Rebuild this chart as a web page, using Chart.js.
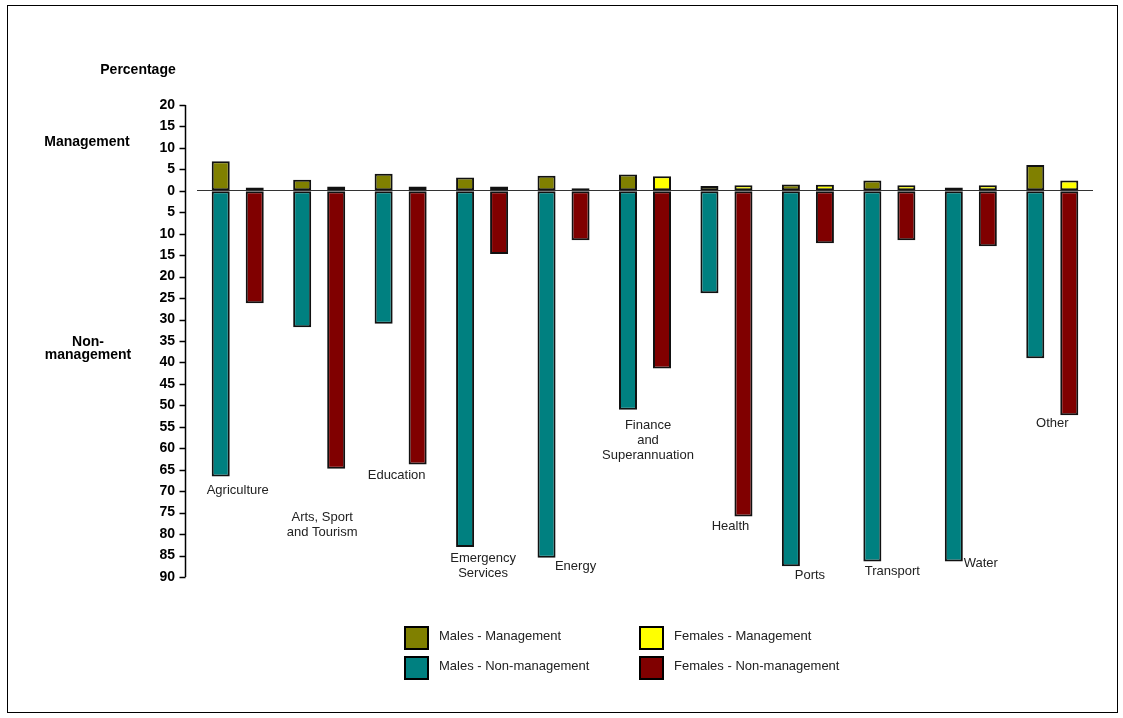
<!DOCTYPE html>
<html>
<head>
<meta charset="utf-8">
<script src="https://cdn.jsdelivr.net/npm/chart.js@4"></script>
<style>
  body { margin: 0; background: #fff; }
  #wrap { width: 1123px; height: 718px; }
</style>
</head>
<body>
<div id="wrap"><canvas id="chart" width="1123" height="718"></canvas></div>
<script>
const categories = ['Agriculture', ['Arts, Sport', 'and Tourism'], 'Education', ['Emergency', 'Services'], 'Energy',
	['Finance', 'and', 'Superannuation'], 'Health', 'Ports', 'Transport', 'Water', 'Other'];
const malesMgmt = [6.9, 2.6, 4.0, 3.1, 3.5, 3.8, 1.1, 1.5, 2.4, 0.8, 6.0];
const femalesMgmt = [0.8, 1.0, 1.0, 1.0, 0.6, 3.4, 1.3, 1.4, 1.3, 1.3, 2.4];
const malesNonMgmt = [-66.6, -31.8, -31.0, -83.0, -85.5, -51.0, -23.9, -87.5, -86.4, -86.4, -39.0];
const femalesNonMgmt = [-26.2, -64.8, -63.8, -14.7, -11.5, -41.4, -75.9, -12.2, -11.5, -12.9, -52.3];
const yMin = -90;
const yMax = 20;
const yStep = 5;

const FONT = 'Arial, "Liberation Sans", sans-serif';
Chart.defaults.font.family = FONT;

// label nudges relative to the group centre / longest bar end
const labelDx = [0, 3, -4, 1, 12, 3, 4, 2, 3, 10, 0];
const labelDy = [14, 49, 11, 11, 9, 16, 10, 9, 10, 2, 8];

const decorations = {
	id: 'decorations',
	beforeDraw(chart) {
		const ctx = chart.ctx;
		ctx.save();
		ctx.fillStyle = '#fff';
		ctx.fillRect(0, 0, chart.width, chart.height);
		ctx.strokeStyle = '#000';
		ctx.lineWidth = 1;
		ctx.strokeRect(7.5, 5.5, 1110, 707);
		ctx.restore();
	},
	afterDraw(chart) {
		const ctx = chart.ctx;
		const y = chart.scales.y;
		const x = chart.scales.x;
		const area = chart.chartArea;
		ctx.save();
		// y axis line and tick marks
		const ax = area.left - 11.5;
		ctx.strokeStyle = '#000';
		ctx.lineWidth = 1.5;
		ctx.beginPath();
		ctx.moveTo(ax, y.getPixelForValue(yMax));
		ctx.lineTo(ax, y.getPixelForValue(yMin));
		y.ticks.forEach((t) => {
			const py = Math.round(y.getPixelForValue(t.value)) + 0.5;
			ctx.moveTo(ax - 6, py);
			ctx.lineTo(ax, py);
		});
		ctx.stroke();

		// side titles
		ctx.fillStyle = '#000';
		ctx.font = 'bold 14px ' + FONT;
		ctx.textAlign = 'center';
		ctx.textBaseline = 'middle';
		ctx.fillText('Percentage', 138, 70);
		ctx.fillText('Management', 87, 142);
		ctx.fillText('Non-', 88, 342);
		ctx.fillText('management', 88, 355);

		// category labels under the longest bar of each group
		ctx.font = '13px ' + FONT;
		ctx.fillStyle = '#222';
		categories.forEach((cat, i) => {
			const lines = Array.isArray(cat) ? cat : [cat];
			const low = Math.min(malesNonMgmt[i], femalesNonMgmt[i]);
			const by = y.getPixelForValue(low);
			const cx = x.getPixelForValue(i) + labelDx[i];
			lines.forEach((ln, k) => ctx.fillText(ln, cx, by + labelDy[i] + k * 15));
		});

		// legend, two columns
		const cols = [404, 639];
		const rows = [638, 668];
		chart.data.datasets.forEach((ds, i) => {
			const bx = cols[i % 2];
			const cy = rows[Math.floor(i / 2)];
			ctx.fillStyle = ds.backgroundColor;
			ctx.fillRect(bx, cy - 12, 25, 24);
			ctx.strokeStyle = '#000';
			ctx.lineWidth = 2;
			ctx.strokeRect(bx + 1, cy - 11, 23, 22);
			ctx.fillStyle = '#222';
			ctx.textAlign = 'left';
			ctx.fillText(ds.label, bx + 35, cy - 2);
		});
		ctx.restore();
	},
};

const ctx = document.getElementById('chart');
new Chart(ctx, {
	type: 'bar',
	data: {
		labels: categories,
		datasets: [
			{ label: 'Males - Management', data: malesMgmt, stack: 'm', backgroundColor: '#808000' },
			{ label: 'Females - Management', data: femalesMgmt, stack: 'f', backgroundColor: '#ffff00' },
			{ label: 'Males - Non-management', data: malesNonMgmt, stack: 'm', backgroundColor: '#008080' },
			{ label: 'Females - Non-management', data: femalesNonMgmt, stack: 'f', backgroundColor: '#800000' },
		],
	},
	options: {
		responsive: false,
		animation: false,
		layout: { padding: { left: 0, top: 105, right: 30, bottom: 141 } },
		datasets: {
			bar: {
				borderColor: '#111',
				borderWidth: 2,
				borderSkipped: false,
				categoryPercentage: 0.835,
				barPercentage: 0.53,
			},
		},
		plugins: {
			legend: { display: false },
			tooltip: { enabled: false },
		},
		scales: {
			x: { stacked: true, display: false },
			y: {
				stacked: true,
				min: yMin,
				max: yMax,
				afterFit: (scale) => { scale.width = 197; },
				border: { display: false },
				grid: {
					drawTicks: false,
					color: (c) => (c.tick && c.tick.value === 0 ? '#333' : 'rgba(0,0,0,0)'),
					lineWidth: 1,
				},
				ticks: {
					stepSize: yStep,
					autoSkip: false,
					padding: 22,
					color: '#000',
					font: { size: 14, weight: 'bold' },
					callback: (v) => Math.abs(v),
				},
			},
		},
	},
	plugins: [decorations],
});
</script>
</body>
</html>
